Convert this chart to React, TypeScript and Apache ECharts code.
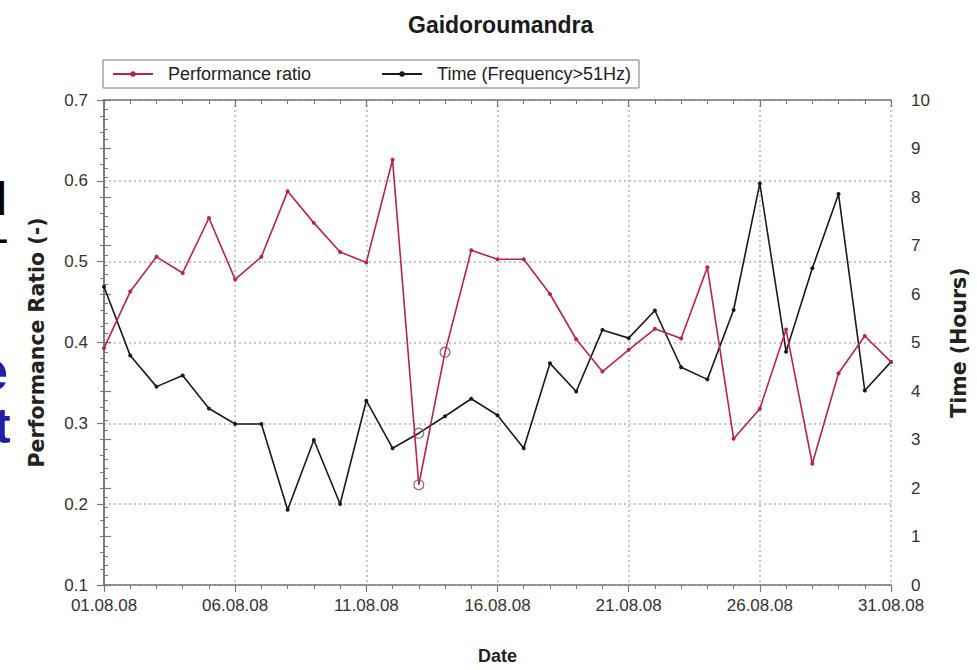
import React, { useEffect, useRef } from "react";
import * as echarts from "echarts";

const dates = [
  "01.08.08", "02.08.08", "03.08.08", "04.08.08", "05.08.08", "06.08.08", "07.08.08", "08.08.08",
  "09.08.08", "10.08.08", "11.08.08", "12.08.08", "13.08.08", "14.08.08", "15.08.08", "16.08.08",
  "17.08.08", "18.08.08", "19.08.08", "20.08.08", "21.08.08", "22.08.08", "23.08.08", "24.08.08",
  "25.08.08", "26.08.08", "27.08.08", "28.08.08", "29.08.08", "30.08.08", "31.08.08",
];

const performanceRatio = [
  0.393, 0.463, 0.506, 0.486, 0.554, 0.478, 0.506, 0.587, 0.548, 0.512, 0.499, 0.626, 0.224, 0.388,
  0.514, 0.503, 0.503, 0.46, 0.404, 0.364, 0.391, 0.417, 0.405, 0.493, 0.281, 0.318, 0.416, 0.25,
  0.362, 0.408, 0.376,
];

const timeHours = [
  6.15, 4.73, 4.09, 4.32, 3.64, 3.32, 3.32, 1.55, 2.99, 1.67, 3.8, 2.82, 3.13, 3.48, 3.84, 3.5,
  2.82, 4.57, 3.99, 5.26, 5.09, 5.66, 4.49, 4.24, 5.67, 8.28, 4.81, 6.53, 8.06, 4.01, 4.6,
];

// indices of points that are ringed in the original figure
const ringedRatio = [12, 13];
const ringedTime = [12];

const titleText = "Gaidoroumandra";
const ratioName = "Performance ratio";
const timeName = "Time (Frequency>51Hz)";
const leftAxisName = "Performance Ratio (-)";
const rightAxisName = "Time (Hours)";
const xAxisName = "Date";

const RED = "#bb2540";
const BLACK = "#1a1a1a";
const FONT = "Liberation Sans, Arial, sans-serif";

export default function App() {
  const ref = useRef<HTMLDivElement>(null);

  useEffect(() => {
    if (!ref.current) return;
    const chart = echarts.init(ref.current, null, { renderer: "svg" });

    const mk = (vals: number[], ringed: number[], ringColor: string) =>
      vals.map((v, i) =>
        ringed.includes(i)
          ? {
              value: [i, v],
              symbol: "circle",
              symbolSize: 10,
              itemStyle: { color: "rgba(0,0,0,0)", borderColor: ringColor, borderWidth: 1.2 },
            }
          : { value: [i, v] }
      );

    const axisLine = { show: true, lineStyle: { color: "#777", width: 1.5 } };
    const gridLine = { show: true, lineStyle: { color: "#b5b5b5", type: [2, 3], width: 1.5 } };
    const tick = { show: true, length: 7, lineStyle: { color: "#777", width: 1.2 } };
    const minor = { show: true, splitNumber: 5, length: 4, lineStyle: { color: "#777", width: 1 } };

    chart.setOption({
      animation: false,
      backgroundColor: "#fff",
      textStyle: { fontFamily: FONT },
      title: {
        text: titleText,
        left: 408,
        top: 13,
        padding: 0,
        textStyle: { fontFamily: FONT, fontWeight: "bold", fontSize: 23, color: "#1a1a1a" },
      },
      legend: {
        left: 103,
        top: 60,
        padding: [5, 8, 5, 9],
        itemGap: 70,
        itemWidth: 40,
        itemHeight: 7,
        borderColor: "#777",
        borderWidth: 1,
        data: [ratioName, timeName],
        textStyle: { fontFamily: FONT, fontSize: 18, color: "#222", padding: [0, 0, 0, 10] },
      },
      grid: { left: 104, right: 74, top: 100, bottom: 85 },
      xAxis: [
        {
          type: "value",
          min: 0,
          max: 30,
          interval: 5,
          name: xAxisName,
          nameLocation: "middle",
          nameGap: 62,
          nameTextStyle: { fontFamily: FONT, fontWeight: "bold", fontSize: 18, color: "#222" },
          axisLine,
          axisTick: tick,
          minorTick: minor,
          axisLabel: {
            fontFamily: FONT,
            fontSize: 17,
            color: "#333",
            margin: 12,
            formatter: (v: number) => dates[Math.round(v)] ?? "",
          },
          splitLine: gridLine,
        },
        {
          type: "value",
          position: "top",
          min: 0,
          max: 30,
          interval: 5,
          axisLine,
          axisTick: { ...tick, inside: true },
          minorTick: minor,
          axisLabel: { show: false },
          splitLine: { show: false },
        },
      ],
      yAxis: [
        {
          type: "value",
          min: 0.1,
          max: 0.7,
          interval: 0.1,
          name: leftAxisName,
          nameLocation: "middle",
          nameGap: 57,
          nameTextStyle: { fontFamily: "DejaVu Sans", fontWeight: "bold", fontSize: 20.5, color: "#222" },
          axisLine,
          axisTick: tick,
          minorTick: minor,
          axisLabel: {
            fontFamily: FONT,
            fontSize: 17,
            color: "#333",
            margin: 16,
            formatter: (v: number) => v.toFixed(1),
          },
          splitLine: gridLine,
        },
        {
          type: "value",
          min: 0,
          max: 10,
          interval: 1,
          position: "right",
          name: rightAxisName,
          nameLocation: "middle",
          nameRotate: 90,
          nameGap: 57,
          nameTextStyle: { fontFamily: "DejaVu Sans", fontWeight: "bold", fontSize: 20.5, color: "#222" },
          axisLine,
          axisTick: tick,
          minorTick: minor,
          axisLabel: { fontFamily: FONT, fontSize: 17, color: "#333", margin: 20 },
          splitLine: { show: false },
        },
      ],
      series: [
        {
          type: "line",
          name: timeName,
          yAxisIndex: 1,
          data: mk(timeHours, ringedTime, "#777"),
          symbol: "circle",
          symbolSize: 4,
          lineStyle: { color: BLACK, width: 1.6 },
          itemStyle: { color: BLACK },
          z: 2,
        },
        {
          type: "line",
          name: ratioName,
          yAxisIndex: 0,
          data: mk(performanceRatio, ringedRatio, "#a05a66"),
          symbol: "circle",
          symbolSize: 4,
          lineStyle: { color: RED, width: 1.6 },
          itemStyle: { color: RED },
          z: 3,
        },
      ],
      graphic: [
        { type: "text", x: -21, y: 199, style: { text: "d", fontFamily: FONT, fontWeight: "bold", fontSize: 46, fill: "#000", verticalAlign: "middle" } },
        { type: "text", x: -2, y: 238, style: { text: "-", fontFamily: FONT, fontWeight: "bold", fontSize: 30, fill: "#000", verticalAlign: "middle" } },
        { type: "text", x: -23, y: 370, style: { text: "e", fontFamily: FONT, fontWeight: "bold", fontSize: 56, fill: "#1f20a6", verticalAlign: "middle" } },
        { type: "text", x: -6, y: 426, style: { text: "t", fontFamily: FONT, fontWeight: "bold", fontSize: 50, fill: "#1f20a6", verticalAlign: "middle" } },
      ],
    });

    return () => chart.dispose();
  }, []);

  return (
    <div
      ref={ref}
      style={{ position: "fixed", left: 0, top: 0, width: 977, height: 670, background: "#fff" }}
    />
  );
}
